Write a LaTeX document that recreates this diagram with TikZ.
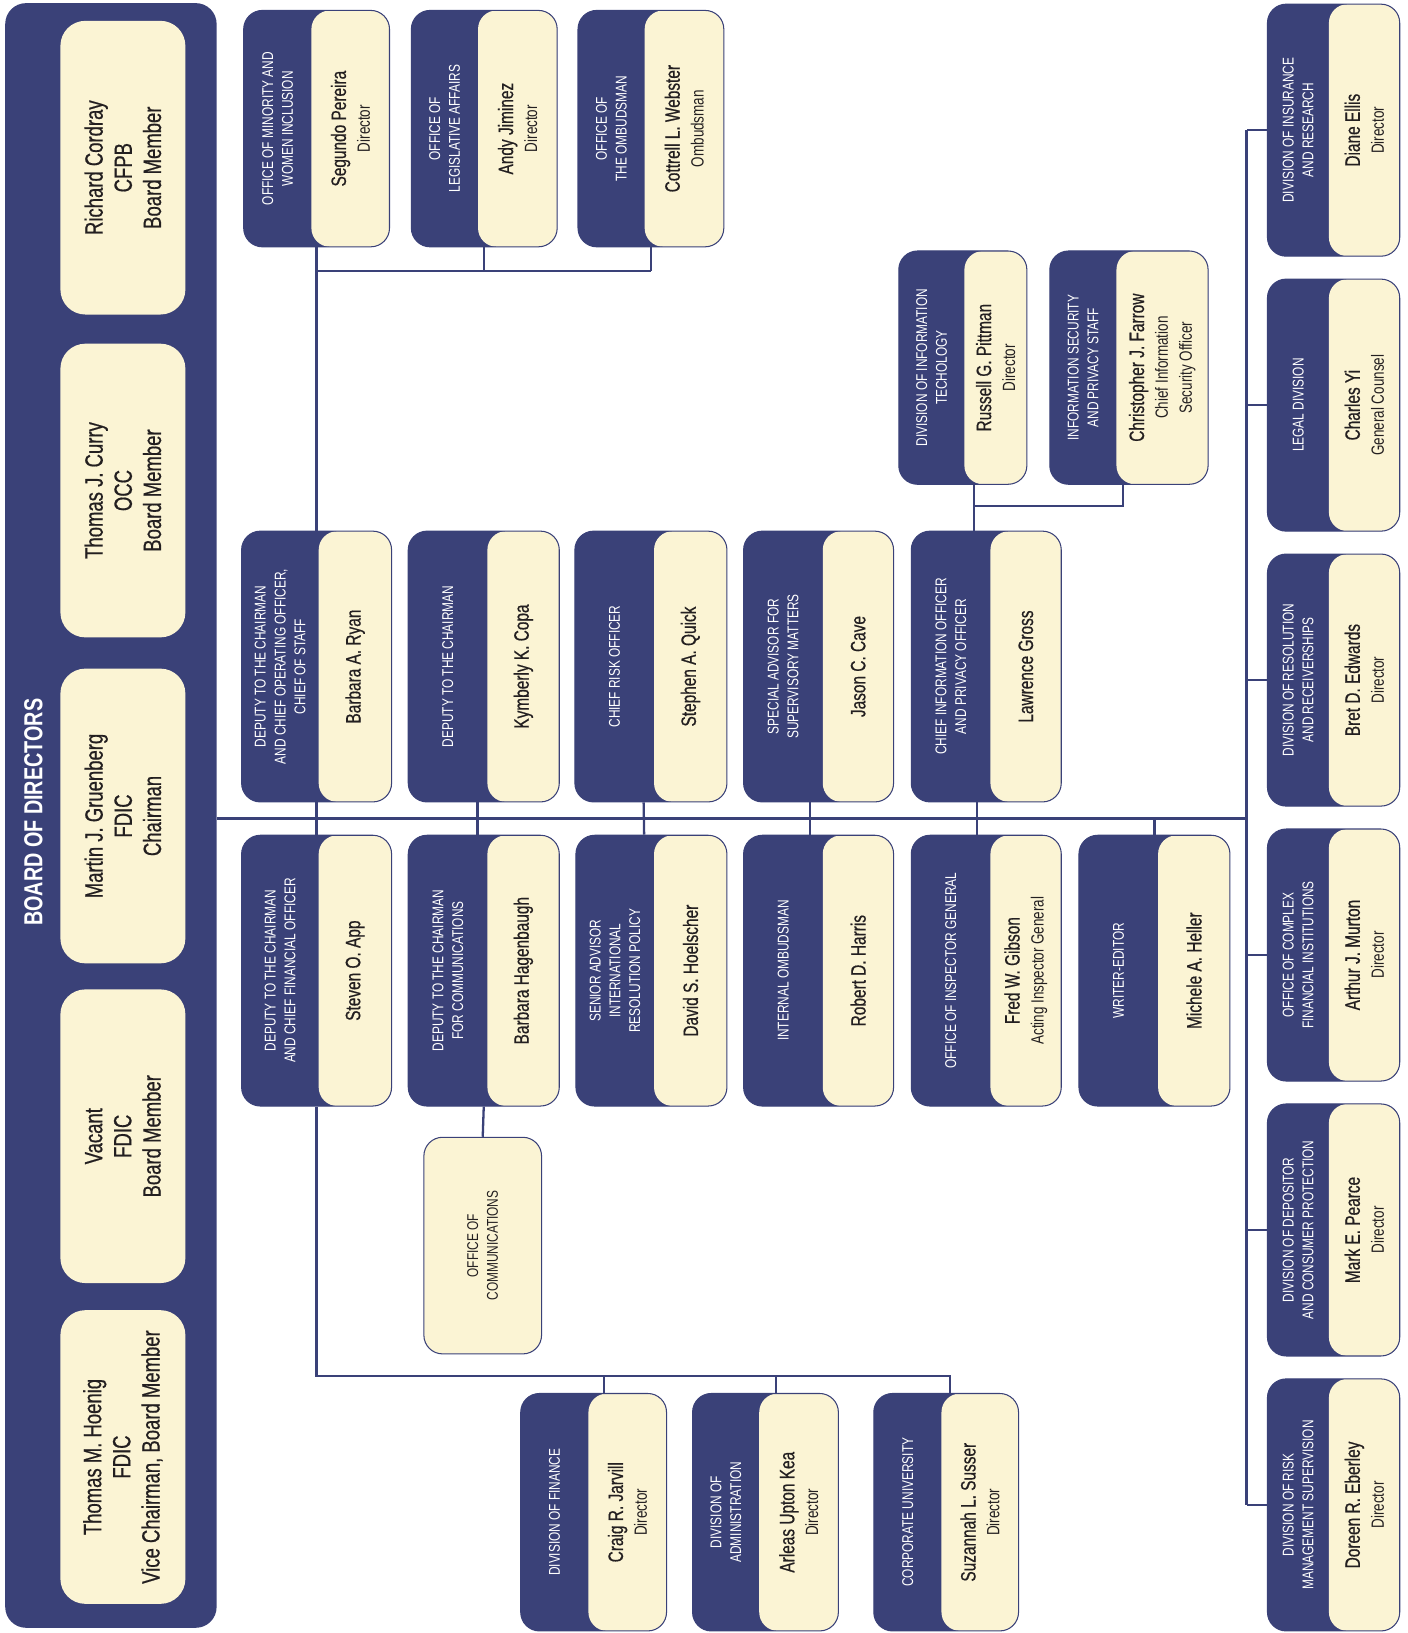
\documentclass[tikz,border=0pt]{standalone}
\usepackage{fontspec}
\setmainfont{Liberation Sans}[FakeStretch=0.76]
\newfontfamily\namefont{Liberation Sans}[FakeStretch=0.74, FakeBold=0.6]
\usepackage{xcolor}
\usepackage{tikz}
\usetikzlibrary{positioning,calc}
\definecolor{navy}{RGB}{58,65,120}
\definecolor{cream}{RGB}{251,244,212}
\definecolor{ink}{RGB}{35,31,32}
\newcommand{\subline}[1]{{\normalfont\fontsize{17}{20}\selectfont #1}}
% split box: name, x1, y1, x2, y2, split x, office, person
\newcommand{\orgunit}[8]{%
    \node[unit, minimum width={(#4)-(#2)}, minimum height={(#5)-(#3)},
        path picture={\fill[cream] ([xshift={(#6)-(#2)}]path picture bounding box.north west) rectangle (path picture bounding box.south east);}]
        (#1) at ({((#2)+(#4))/2},{((#3)+(#5))/2}) {};
    \node[office] (#1-o) at ({((#2)+(#6))/2},{((#3)+(#5))/2}) {#7};
    \node[person] (#1-p) at ({((#6)+(#4))/2},{((#3)+(#5))/2}) {#8};
}

\begin{document}
\begin{tikzpicture}[
    x=1pt, y=-1pt,
    board/.style={rectangle, rounded corners=20pt, fill=navy, inner sep=0pt},
    member/.style={rectangle, rounded corners=24pt, fill=cream, rotate=90, align=center, text=ink, font=\namefont\fontsize{24}{28}\selectfont, inner sep=0pt},
    unit/.style={rectangle, rounded corners=18pt, fill=navy, draw=navy, line width=1pt, inner sep=0pt},
    office/.style={rotate=90, text=white, align=center, font=\fontsize{15}{19}\selectfont, inner sep=0pt},
    person/.style={rotate=90, text=ink, align=center, font=\namefont\fontsize{20}{23}\selectfont, inner sep=0pt},
    link/.style={draw=navy, line width=2.2pt}
]
    \useasboundingbox (0,0) rectangle (1351,1568);

    % Left: board of directors
    \node[board, minimum width=203, minimum height=1560] (board) at (106.5,783) {};
    \node[rotate=90, text=white, font=\bfseries\fontsize{25}{28}\selectfont] (board-t) at (32,780) {BOARD OF DIRECTORS};
    \node[member, minimum width=282, minimum height=120] (bm1) at (118,161) {Richard Cordray\\CFPB\\Board Member};
    \node[member, minimum width=282, minimum height=120] (bm2) at (118,471) {Thomas J. Curry\\OCC\\Board Member};
    \node[member, minimum width=283, minimum height=120] (bm3) at (118,783.5) {Martin J. Gruenberg\\FDIC\\Chairman};
    \node[member, minimum width=282, minimum height=120] (bm4) at (118,1091) {Vacant\\FDIC\\Board Member};
    \node[member, minimum width=282, minimum height=120] (bm5) at (118,1399) {Thomas M. Hoenig\\FDIC\\Vice Chairman, Board Member};

    % Top: offices
    \orgunit{omwi}{234}{10}{374}{237}{299}{OFFICE OF MINORITY AND\\WOMEN INCLUSION}{Segundo Pereira\\\subline{Director}}
    \orgunit{ola}{395}{10}{535}{237}{459}{OFFICE OF\\LEGISLATIVE AFFAIRS}{Andy Jiminez\\\subline{Director}}
    \orgunit{ombud}{555}{10}{695}{237}{619}{OFFICE OF\\THE OMBUDSMAN}{Cottrell L. Webster\\\subline{Ombudsman}}

    % Information technology
    \orgunit{dit}{863}{241}{986}{465}{926}{DIVISION OF INFORMATION\\TECHOLOGY}{Russell G. Pittman\\\subline{Director}}
    \orgunit{isps}{1008}{241}{1160}{465}{1072}{INFORMATION SECURITY\\AND PRIVACY STAFF}{Christopher J. Farrow\\\subline{Chief Information}\\\subline{Security Officer}}

    % Middle: above the main line
    \orgunit{dcoo}{232}{510}{376}{770}{306}{DEPUTY TO THE CHAIRMAN\\AND CHIEF OPERATING OFFICER,\\CHIEF OF STAFF}{Barbara A. Ryan}
    \orgunit{dch}{392}{510}{537}{770}{468}{DEPUTY TO THE CHAIRMAN}{Kymberly K. Copa}
    \orgunit{cro}{552}{510}{698}{770}{628}{CHIEF RISK OFFICER}{Stephen A. Quick}
    \orgunit{sasm}{714}{510}{858}{770}{790}{SPECIAL ADVISOR FOR\\SUPERVISORY MATTERS}{Jason C. Cave}
    \orgunit{cio}{875}{510}{1019}{770}{951}{CHIEF INFORMATION OFFICER\\AND PRIVACY OFFICER}{Lawrence Gross}

    % Middle: below the main line
    \orgunit{dcfo}{232}{802}{376}{1062}{306}{DEPUTY TO THE CHAIRMAN\\AND CHIEF FINANCIAL OFFICER}{Steven O. App}
    \orgunit{dcom}{392}{802}{537}{1062}{468}{DEPUTY TO THE CHAIRMAN\\FOR COMMUNICATIONS}{Barbara Hagenbaugh}
    \orgunit{sair}{553}{802}{698}{1062}{628}{SENIOR ADVISOR\\INTERNATIONAL\\RESOLUTION POLICY}{David S. Hoelscher}
    \orgunit{iomb}{714}{802}{858}{1062}{790}{INTERNAL OMBUDSMAN}{Robert D. Harris}
    \orgunit{oig}{875}{802}{1019}{1062}{951}{OFFICE OF INSPECTOR GENERAL}{Fred W. Gibson\\\subline{Acting Inspector General}}
    \orgunit{wred}{1036}{802}{1181}{1062}{1112}{WRITER-EDITOR}{Michele A. Heller}

    \node[unit, fill=cream, rotate=90, minimum width=208, minimum height=113, align=center, text=ink, font=\fontsize{15}{19}\selectfont] (ocom) at (463.5,1196) {OFFICE OF\\COMMUNICATIONS};

    % Bottom: divisions under the CFO
    \orgunit{dof}{500}{1338}{640}{1566}{565}{DIVISION OF FINANCE}{Craig R. Jarvill\\\subline{Director}}
    \orgunit{doa}{665}{1338}{805}{1566}{729}{DIVISION OF\\ADMINISTRATION}{Arleas Upton Kea\\\subline{Director}}
    \orgunit{cu}{839}{1338}{978}{1566}{904}{CORPORATE UNIVERSITY}{Suzannah L. Susser\\\subline{Director}}

    % Right: divisions
    \orgunit{dir}{1217}{4}{1344}{246}{1276}{DIVISION OF INSURANCE\\AND RESEARCH}{Diane Ellis\\\subline{Director}}
    \orgunit{legal}{1217}{268}{1344}{510}{1276}{LEGAL DIVISION}{Charles Yi\\\subline{General Counsel}}
    \orgunit{drr}{1217}{532}{1344}{774}{1276}{DIVISION OF RESOLUTION\\AND RECEIVERSHIPS}{Bret D. Edwards\\\subline{Director}}
    \orgunit{ocfi}{1217}{796}{1344}{1038}{1276}{OFFICE OF COMPLEX\\FINANCIAL INSTITUTIONS}{Arthur J. Murton\\\subline{Director}}
    \orgunit{dcp}{1217}{1060}{1344}{1302}{1276}{DIVISION OF DEPOSITOR\\AND CONSUMER PROTECTION}{Mark E. Pearce\\\subline{Director}}
    \orgunit{rms}{1217}{1324}{1344}{1566}{1276}{DIVISION OF RISK\\MANAGEMENT SUPERVISION}{Doreen R. Eberley\\\subline{Director}}

    % Lines
    \coordinate (bus) at (1197,786);
    \coordinate (topbus) at (0,260);
    \coordinate (itbus) at (0,486);
    \coordinate (finbus) at (0,1321);

    \draw[link] (board.east |- bus) -- (bus);
    \draw[link] (bus |- dir.west) -- (bus |- rms.west);
    \foreach \r in {dir,legal,drr,ocfi,dcp,rms}
        \draw[link] (\r.west) -- (bus |- \r.west);

    \draw[link] (omwi.south) -- (dcoo.north);
    \draw[link] (ola.south) -- (ola.south |- topbus);
    \draw[link] (ombud.south) -- (ombud.south |- topbus);
    \draw[link] (omwi.south |- topbus) -- (ombud.south |- topbus);

    \draw[link] (dcoo.south) -- (dcfo.north);
    \foreach \a/\b/\s in {dch/dcom/-6,cro/sair/-7,sasm/iomb/-8,cio/oig/-9}
        \draw[link] ([xshift=\s pt]\a.south) -- ([xshift=\s pt]\b.north);
    \draw[link] (wred.north) -- (wred.north |- bus);

    \draw[link] ([xshift=11pt]dit.south) -- ([xshift=11pt]dit.south |- cio.north);
    \draw[link] ([xshift=-6pt]isps.south) |- ([xshift=11pt]dit.south |- itbus);

    \draw[link] (dcom.south) -- (ocom.east);

    \draw[link] (dcfo.south) |- ([xshift=4pt]cu.north |- finbus) -- ([xshift=4pt]cu.north);
    \draw[link] ([xshift=10pt]dof.north) -- ([xshift=10pt]dof.north |- finbus);
    \draw[link] ([xshift=10pt]doa.north) -- ([xshift=10pt]doa.north |- finbus);

\end{tikzpicture}
\end{document}
